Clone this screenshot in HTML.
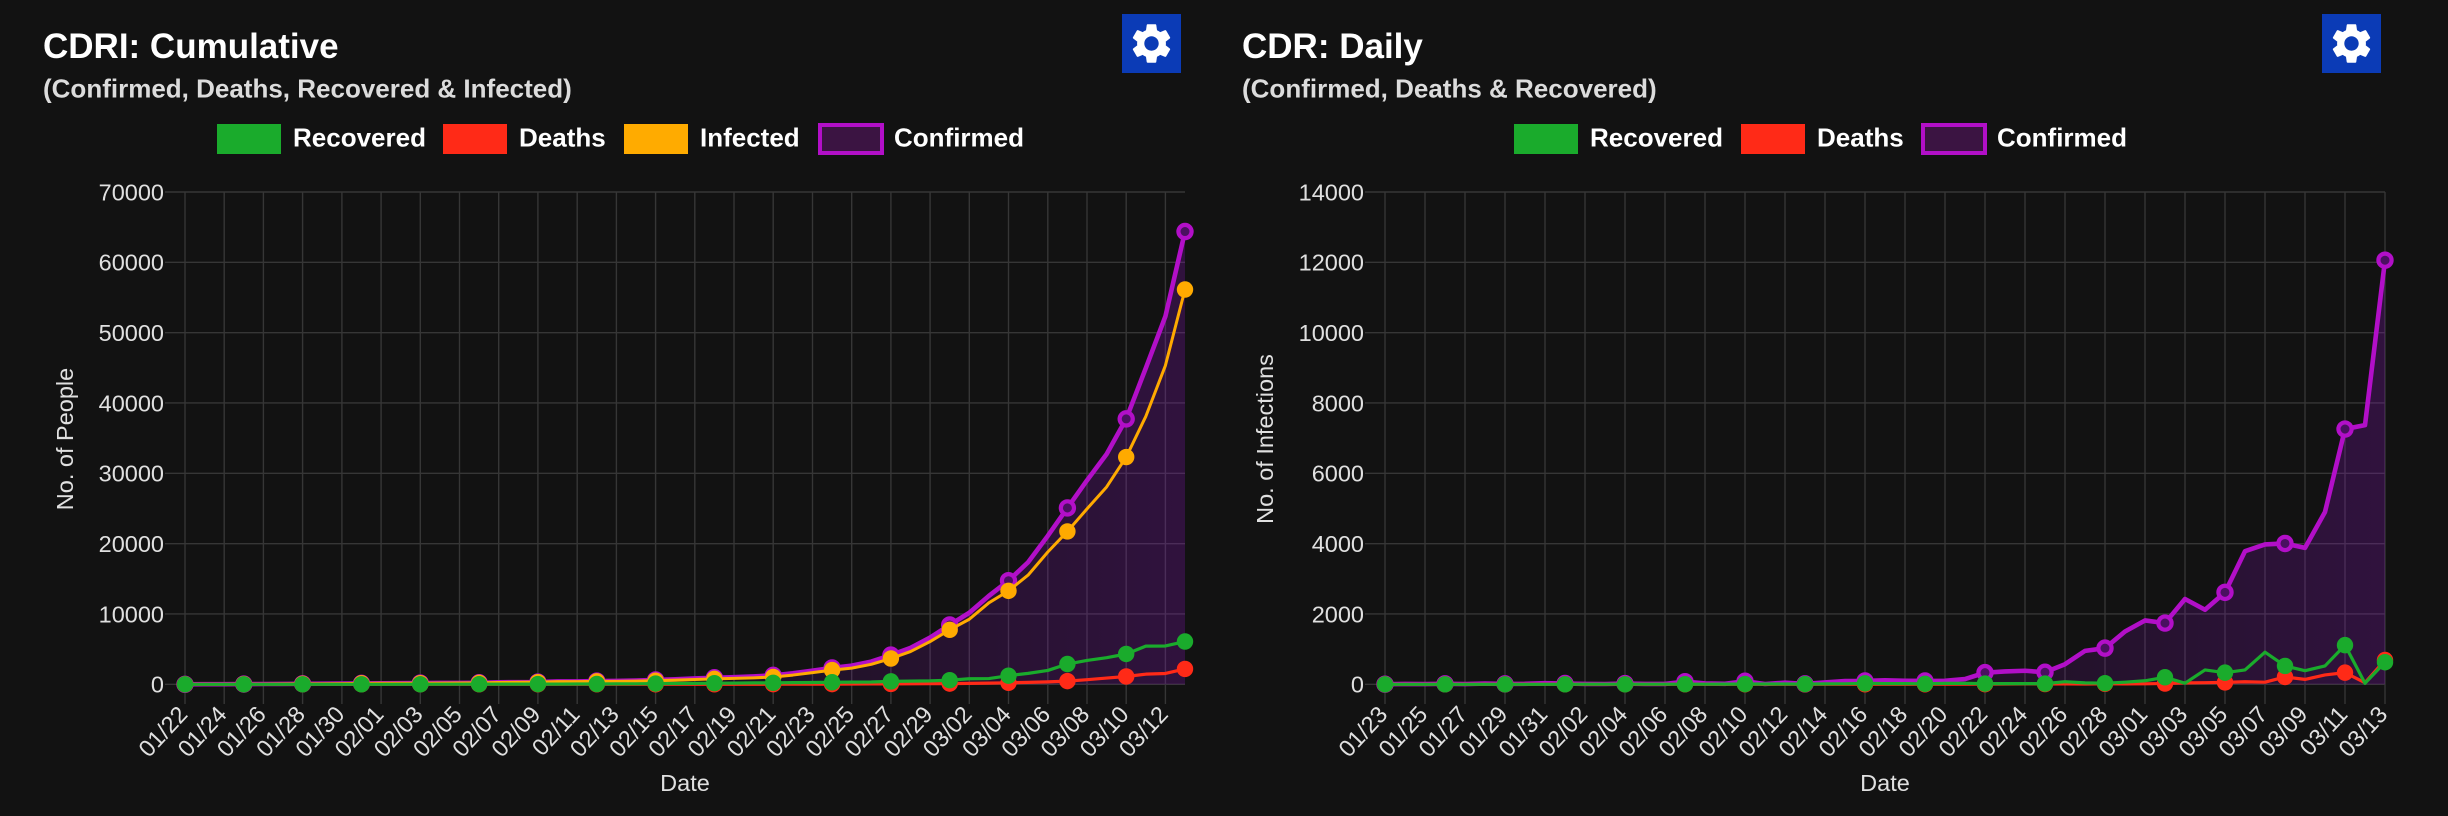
<!DOCTYPE html>
<html>
<head>
<meta charset="utf-8">
<style>
html,body{margin:0;padding:0;background:#121212;}
body{width:2448px;height:816px;overflow:hidden;position:relative;}
svg{position:absolute;left:0;top:0;}
</style>
</head>
<body>
<svg width="2448" height="816" viewBox="0 0 2448 816" xmlns="http://www.w3.org/2000/svg" font-family="'Liberation Sans', Arial, sans-serif">
<defs>
<linearGradient id="fillL" x1="0" y1="0" x2="1" y2="0">
<stop offset="0" stop-color="#8a10c0" stop-opacity="0.04"/>
<stop offset="0.55" stop-color="#8a10c0" stop-opacity="0.10"/>
<stop offset="1" stop-color="#8a10c0" stop-opacity="0.25"/>
</linearGradient>
<linearGradient id="fillR" x1="0" y1="0" x2="1" y2="0">
<stop offset="0" stop-color="#8a10c0" stop-opacity="0.04"/>
<stop offset="0.55" stop-color="#8a10c0" stop-opacity="0.10"/>
<stop offset="1" stop-color="#8a10c0" stop-opacity="0.25"/>
</linearGradient>
</defs>
<rect x="0" y="0" width="2448" height="816" fill="#121212"/>

<!-- ===== Headers ===== -->
<text x="43" y="58" font-size="35" font-weight="bold" fill="#ffffff">CDRI: Cumulative</text>
<text x="43" y="97.5" font-size="26" font-weight="bold" fill="#dcdcdc">(Confirmed, Deaths, Recovered &amp; Infected)</text>
<text x="1242" y="58" font-size="35" font-weight="bold" fill="#ffffff">CDR: Daily</text>
<text x="1242" y="97.5" font-size="26" font-weight="bold" fill="#dcdcdc">(Confirmed, Deaths &amp; Recovered)</text>

<!-- gear buttons -->
<rect x="1122" y="14" width="59" height="59" fill="#0b3bb6"/>
<path transform="translate(1127.5,19.5) scale(2)" fill="#ffffff" fill-rule="evenodd" d="M19.14,12.94c0.04-0.3,0.06-0.61,0.06-0.94c0-0.32-0.02-0.64-0.07-0.94l2.03-1.58c0.18-0.14,0.23-0.41,0.12-0.61l-1.92-3.32c-0.12-0.22-0.37-0.29-0.59-0.22l-2.39,0.96c-0.5-0.38-1.03-0.7-1.62-0.94L14.4,2.81c-0.04-0.24-0.24-0.41-0.48-0.41h-3.84c-0.24,0-0.43,0.17-0.47,0.41L9.25,5.35C8.66,5.59,8.12,5.92,7.63,6.29L5.24,5.33c-0.22-0.08-0.47,0-0.59,0.22L2.74,8.87C2.62,9.08,2.66,9.34,2.86,9.48l2.03,1.58C4.84,11.36,4.8,11.69,4.8,12s0.02,0.64,0.07,0.94l-2.03,1.58c-0.18,0.14-0.23,0.41-0.12,0.61l1.92,3.32c0.12,0.22,0.37,0.29,0.59,0.22l2.39-0.96c0.5,0.38,1.03,0.7,1.62,0.94l0.36,2.54c0.05,0.24,0.24,0.41,0.48,0.41h3.84c0.24,0,0.44-0.17,0.47-0.41l0.36-2.54c0.59-0.24,1.13-0.56,1.62-0.94l2.39,0.96c0.22,0.08,0.47,0,0.59-0.22l1.92-3.32c0.12-0.22,0.07-0.47-0.12-0.61L19.14,12.94z M12,15.6c-1.98,0-3.6-1.62-3.6-3.6s1.62-3.6,3.6-3.6s3.6,1.62,3.6,3.6S13.98,15.6,12,15.6z"/>
<rect x="2322" y="14" width="59" height="59" fill="#0b3bb6"/>
<path transform="translate(2327.5,19.5) scale(2)" fill="#ffffff" fill-rule="evenodd" d="M19.14,12.94c0.04-0.3,0.06-0.61,0.06-0.94c0-0.32-0.02-0.64-0.07-0.94l2.03-1.58c0.18-0.14,0.23-0.41,0.12-0.61l-1.92-3.32c-0.12-0.22-0.37-0.29-0.59-0.22l-2.39,0.96c-0.5-0.38-1.03-0.7-1.62-0.94L14.4,2.81c-0.04-0.24-0.24-0.41-0.48-0.41h-3.84c-0.24,0-0.43,0.17-0.47,0.41L9.25,5.35C8.66,5.59,8.12,5.920,7.63,6.29L5.24,5.33c-0.22-0.08-0.47,0-0.59,0.22L2.74,8.87C2.62,9.08,2.66,9.34,2.86,9.48l2.03,1.58C4.84,11.36,4.8,11.69,4.8,12s0.02,0.64,0.07,0.94l-2.03,1.58c-0.18,0.14-0.23,0.41-0.12,0.61l1.92,3.32c0.12,0.22,0.37,0.29,0.59,0.22l2.39-0.96c0.5,0.38,1.03,0.7,1.62,0.94l0.36,2.54c0.05,0.24,0.24,0.41,0.48,0.41h3.84c0.24,0,0.44-0.17,0.47-0.41l0.36-2.54c0.59-0.24,1.13-0.56,1.62-0.94l2.39,0.96c0.22,0.08,0.47,0,0.59-0.22l1.92-3.32c0.12-0.22,0.07-0.47-0.12-0.61L19.14,12.94z M12,15.6c-1.98,0-3.6-1.62-3.6-3.6s1.62-3.6,3.6-3.6s3.6,1.62,3.6,3.6S13.98,15.6,12,15.6z"/>

<!-- ===== Legends ===== -->
<g font-size="26" font-weight="bold" fill="#ffffff">
<rect x="217" y="124" width="64" height="30" fill="#1aab2c"/>
<text x="293" y="146.5">Recovered</text>
<rect x="443" y="124" width="64" height="30" fill="#ff2a17"/>
<text x="519" y="146.5">Deaths</text>
<rect x="624" y="124" width="64" height="30" fill="#ffab00"/>
<text x="700" y="146.5">Infected</text>
<rect x="820" y="125" width="62" height="28" fill="#3b1442" stroke="#b20fc8" stroke-width="4"/>
<text x="894" y="146.5">Confirmed</text>

<rect x="1514" y="124" width="64" height="30" fill="#1aab2c"/>
<text x="1590" y="146.5">Recovered</text>
<rect x="1741" y="124" width="64" height="30" fill="#ff2a17"/>
<text x="1817" y="146.5">Deaths</text>
<rect x="1923" y="125" width="62" height="28" fill="#3b1442" stroke="#b20fc8" stroke-width="4"/>
<text x="1997" y="146.5">Confirmed</text>
</g>

<!-- ===== Gridlines ===== -->
<g stroke="#363636" stroke-width="1.4" fill="none">
<path d="M165 684.3H1185M165 613.97H1185M165 543.64H1185M165 473.31H1185M165 402.98H1185M165 332.65H1185M165 262.32H1185M165 192H1185"/>
<path d="M185 192V704M224.2 192V704M263.4 192V704M302.6 192V704M341.9 192V704M381.1 192V704M420.3 192V704M459.5 192V704M498.7 192V704M537.9 192V704M577.2 192V704M616.4 192V704M655.6 192V704M694.8 192V704M734 192V704M773.2 192V704M812.5 192V704M851.7 192V704M890.9 192V704M930.1 192V704M969.3 192V704M1008.5 192V704M1047.8 192V704M1087 192V704M1126.2 192V704M1165.4 192V704"/>
<path d="M1365 684.3H2385M1365 613.97H2385M1365 543.64H2385M1365 473.31H2385M1365 402.98H2385M1365 332.65H2385M1365 262.32H2385M1365 192H2385"/>
<path d="M1385 192V704M1425 192V704M1465 192V704M1505 192V704M1545 192V704M1585 192V704M1625 192V704M1665 192V704M1705 192V704M1745 192V704M1785 192V704M1825 192V704M1865 192V704M1905 192V704M1945 192V704M1985 192V704M2025 192V704M2065 192V704M2105 192V704M2145 192V704M2185 192V704M2225 192V704M2265 192V704M2305 192V704M2345 192V704M2385 192V704"/>
</g>

<!-- ===== Axis tick labels ===== -->
<g font-size="23.5" fill="#e0e0e0" text-anchor="end">
<text x="164" y="692.7">0</text>
<text x="164" y="622.4">10000</text>
<text x="164" y="552">20000</text>
<text x="164" y="481.7">30000</text>
<text x="164" y="411.4">40000</text>
<text x="164" y="341.1">50000</text>
<text x="164" y="270.7">60000</text>
<text x="164" y="200.4">70000</text>
<text x="1364" y="692.7">0</text>
<text x="1364" y="622.4">2000</text>
<text x="1364" y="552">4000</text>
<text x="1364" y="481.7">6000</text>
<text x="1364" y="411.4">8000</text>
<text x="1364" y="341.1">10000</text>
<text x="1364" y="270.7">12000</text>
<text x="1364" y="200.4">14000</text>
</g>
<g font-size="23.5" fill="#e0e0e0" text-anchor="end" dominant-baseline="central">
<text transform="translate(183,710) rotate(-47)">01/22</text>
<text transform="translate(222.2,710) rotate(-47)">01/24</text>
<text transform="translate(261.4,710) rotate(-47)">01/26</text>
<text transform="translate(300.6,710) rotate(-47)">01/28</text>
<text transform="translate(339.9,710) rotate(-47)">01/30</text>
<text transform="translate(379.1,710) rotate(-47)">02/01</text>
<text transform="translate(418.3,710) rotate(-47)">02/03</text>
<text transform="translate(457.5,710) rotate(-47)">02/05</text>
<text transform="translate(496.7,710) rotate(-47)">02/07</text>
<text transform="translate(535.9,710) rotate(-47)">02/09</text>
<text transform="translate(575.2,710) rotate(-47)">02/11</text>
<text transform="translate(614.4,710) rotate(-47)">02/13</text>
<text transform="translate(653.6,710) rotate(-47)">02/15</text>
<text transform="translate(692.8,710) rotate(-47)">02/17</text>
<text transform="translate(732,710) rotate(-47)">02/19</text>
<text transform="translate(771.2,710) rotate(-47)">02/21</text>
<text transform="translate(810.5,710) rotate(-47)">02/23</text>
<text transform="translate(849.7,710) rotate(-47)">02/25</text>
<text transform="translate(888.9,710) rotate(-47)">02/27</text>
<text transform="translate(928.1,710) rotate(-47)">02/29</text>
<text transform="translate(967.3,710) rotate(-47)">03/02</text>
<text transform="translate(1006.5,710) rotate(-47)">03/04</text>
<text transform="translate(1045.8,710) rotate(-47)">03/06</text>
<text transform="translate(1085,710) rotate(-47)">03/08</text>
<text transform="translate(1124.2,710) rotate(-47)">03/10</text>
<text transform="translate(1163.4,710) rotate(-47)">03/12</text>

<text transform="translate(1383,710) rotate(-47)">01/23</text>
<text transform="translate(1423,710) rotate(-47)">01/25</text>
<text transform="translate(1463,710) rotate(-47)">01/27</text>
<text transform="translate(1503,710) rotate(-47)">01/29</text>
<text transform="translate(1543,710) rotate(-47)">01/31</text>
<text transform="translate(1583,710) rotate(-47)">02/02</text>
<text transform="translate(1623,710) rotate(-47)">02/04</text>
<text transform="translate(1663,710) rotate(-47)">02/06</text>
<text transform="translate(1703,710) rotate(-47)">02/08</text>
<text transform="translate(1743,710) rotate(-47)">02/10</text>
<text transform="translate(1783,710) rotate(-47)">02/12</text>
<text transform="translate(1823,710) rotate(-47)">02/14</text>
<text transform="translate(1863,710) rotate(-47)">02/16</text>
<text transform="translate(1903,710) rotate(-47)">02/18</text>
<text transform="translate(1943,710) rotate(-47)">02/20</text>
<text transform="translate(1983,710) rotate(-47)">02/22</text>
<text transform="translate(2023,710) rotate(-47)">02/24</text>
<text transform="translate(2063,710) rotate(-47)">02/26</text>
<text transform="translate(2103,710) rotate(-47)">02/28</text>
<text transform="translate(2143,710) rotate(-47)">03/01</text>
<text transform="translate(2183,710) rotate(-47)">03/03</text>
<text transform="translate(2223,710) rotate(-47)">03/05</text>
<text transform="translate(2263,710) rotate(-47)">03/07</text>
<text transform="translate(2303,710) rotate(-47)">03/09</text>
<text transform="translate(2343,710) rotate(-47)">03/11</text>
<text transform="translate(2383,710) rotate(-47)">03/13</text>
</g>

<!-- axis titles -->
<g font-size="23.5" fill="#e0e0e0" text-anchor="middle">
<text transform="translate(73,439) rotate(-90)">No. of People</text>
<text transform="translate(1273,439) rotate(-90)">No. of Infections</text>
<text x="685" y="791">Date</text>
<text x="1885" y="791">Date</text>
</g>

<!-- ===== LEFT CHART DATA ===== -->
<g transform="matrix(1 0 0 1.00371 0 -2.2376)">
<polygon fill="url(#fillL)" points="185,684 204.6,683.9 224.2,683.9 243.8,683.8 263.4,683.7 283,683.6 302.6,683.5 322.3,683.4 341.9,683.3 361.5,683.1 381.1,683 400.7,682.9 420.3,682.8 439.9,682.7 459.5,682.6 479.1,682.5 498.7,682 518.3,681.9 537.9,681.8 557.6,681.1 577.2,681.1 596.8,680.8 616.4,680.7 636,680.3 655.6,679.7 675.2,679 694.8,678.2 714.4,677.5 734,676.9 753.6,676.2 773.2,675.1 792.8,673 812.5,670.4 832.1,667.7 851.7,665.4 871.3,661.4 890.9,654.9 910.5,647.7 930.1,637.4 949.7,624.9 969.3,612.7 988.9,595.9 1008.5,580.8 1028.1,562.4 1047.8,536.1 1067.4,508.3 1087,480.8 1106.6,454.7 1126.2,419.6 1145.8,369 1165.4,317.4 1185,232.9 1185,684"/>
<polyline fill="none" stroke="#b20fc8" stroke-width="4.6" stroke-linejoin="round" stroke-linecap="round" points="185,684 204.6,683.9 224.2,683.9 243.8,683.8 263.4,683.7 283,683.6 302.6,683.5 322.3,683.4 341.9,683.3 361.5,683.1 381.1,683 400.7,682.9 420.3,682.8 439.9,682.7 459.5,682.6 479.1,682.5 498.7,682 518.3,681.9 537.9,681.8 557.6,681.1 577.2,681.1 596.8,680.8 616.4,680.7 636,680.3 655.6,679.7 675.2,679 694.8,678.2 714.4,677.5 734,676.9 753.6,676.2 773.2,675.1 792.8,673 812.5,670.4 832.1,667.7 851.7,665.4 871.3,661.4 890.9,654.9 910.5,647.7 930.1,637.4 949.7,624.9 969.3,612.7 988.9,595.9 1008.5,580.8 1028.1,562.4 1047.8,536.1 1067.4,508.3 1087,480.8 1106.6,454.7 1126.2,419.6 1145.8,369 1165.4,317.4 1185,232.9"/>
<g fill="#4a1060" stroke="#b20fc8" stroke-width="4.2">
<circle cx="185" cy="684" r="6.6"/><circle cx="243.8" cy="683.8" r="6.6"/><circle cx="302.6" cy="683.5" r="6.6"/><circle cx="361.5" cy="683.1" r="6.6"/><circle cx="420.3" cy="682.8" r="6.6"/><circle cx="479.1" cy="682.5" r="6.6"/><circle cx="537.9" cy="681.8" r="6.6"/><circle cx="596.8" cy="680.8" r="6.6"/><circle cx="655.6" cy="679.7" r="6.6"/><circle cx="714.4" cy="677.5" r="6.6"/><circle cx="773.2" cy="675.1" r="6.6"/><circle cx="832.1" cy="667.7" r="6.6"/><circle cx="890.9" cy="654.9" r="6.6"/><circle cx="949.7" cy="624.9" r="6.6"/><circle cx="1008.5" cy="580.8" r="6.6"/><circle cx="1067.4" cy="508.3" r="6.6"/><circle cx="1126.2" cy="419.6" r="6.6"/><circle cx="1185" cy="232.9" r="6.6"/>
</g>

<polyline fill="none" stroke="#ffaa00" stroke-width="3" stroke-linejoin="round" stroke-linecap="round" points="185,684 204.6,683.9 224.2,683.9 243.8,683.8 263.4,683.7 283,683.6 302.6,683.5 322.3,683.4 341.9,683.3 361.5,683.1 381.1,683 400.7,682.9 420.3,682.9 439.9,682.8 459.5,682.7 479.1,682.6 498.7,682.2 518.3,682 537.9,681.9 557.6,681.4 577.2,681.4 596.8,681.1 616.4,681.1 636,680.8 655.6,680.4 675.2,679.9 694.8,679.2 714.4,678.6 734,678.1 753.6,677.6 773.2,676.7 792.8,674.8 812.5,672.4 832.1,669.9 851.7,667.9 871.3,664.1 890.9,658.3 910.5,651.4 930.1,641.4 949.7,629.7 969.3,619.2 988.9,602.8 1008.5,590.9 1028.1,575.2 1047.8,552.2 1067.4,531.7 1087,509.2 1106.6,487.4 1126.2,457.6 1145.8,417.1 1165.4,366.4 1185,290.7"/>
<g fill="#ffaa00">
<circle cx="185" cy="684" r="8.2"/><circle cx="243.8" cy="683.8" r="8.2"/><circle cx="302.6" cy="683.5" r="8.2"/><circle cx="361.5" cy="683.1" r="8.2"/><circle cx="420.3" cy="682.9" r="8.2"/><circle cx="479.1" cy="682.6" r="8.2"/><circle cx="537.9" cy="681.9" r="8.2"/><circle cx="596.8" cy="681.1" r="8.2"/><circle cx="655.6" cy="680.4" r="8.2"/><circle cx="714.4" cy="678.6" r="8.2"/><circle cx="773.2" cy="676.7" r="8.2"/><circle cx="832.1" cy="669.9" r="8.2"/><circle cx="890.9" cy="658.3" r="8.2"/><circle cx="949.7" cy="629.7" r="8.2"/><circle cx="1008.5" cy="590.9" r="8.2"/><circle cx="1067.4" cy="531.7" r="8.2"/><circle cx="1126.2" cy="457.6" r="8.2"/><circle cx="1185" cy="290.7" r="8.2"/>
</g>

<polyline fill="none" stroke="#ff2a17" stroke-width="3.2" stroke-linejoin="round" stroke-linecap="round" points="185,684 753.6,684 773.2,683.9 792.8,683.9 812.5,683.8 832.1,683.8 851.7,683.7 871.3,683.6 890.9,683.6 910.5,683.5 930.1,683.4 949.7,683.3 969.3,683.1 988.9,682.8 1008.5,682.5 1028.1,682.1 1047.8,681.6 1067.4,680.8 1087,679.4 1106.6,677.8 1126.2,676.2 1145.8,673.9 1165.4,673.2 1185,668.7"/>
<g fill="#ff2a17">
<circle cx="185" cy="684" r="8.2"/><circle cx="243.8" cy="684" r="8.2"/><circle cx="302.6" cy="684" r="8.2"/><circle cx="361.5" cy="684" r="8.2"/><circle cx="420.3" cy="684" r="8.2"/><circle cx="479.1" cy="684" r="8.2"/><circle cx="537.9" cy="684" r="8.2"/><circle cx="596.8" cy="684" r="8.2"/><circle cx="655.6" cy="684" r="8.2"/><circle cx="714.4" cy="684" r="8.2"/><circle cx="773.2" cy="683.9" r="8.2"/><circle cx="832.1" cy="683.8" r="8.2"/><circle cx="890.9" cy="683.6" r="8.2"/><circle cx="949.7" cy="683.3" r="8.2"/><circle cx="1008.5" cy="682.5" r="8.2"/><circle cx="1067.4" cy="680.8" r="8.2"/><circle cx="1126.2" cy="676.2" r="8.2"/><circle cx="1185" cy="668.7" r="8.2"/>
</g>

<polyline fill="none" stroke="#1aab2c" stroke-width="3.2" stroke-linejoin="round" stroke-linecap="round" points="185,684 361.5,684 381.1,684 459.5,683.9 557.6,683.8 577.2,683.7 596.8,683.7 616.4,683.6 636,683.5 655.6,683.3 675.2,683.2 694.8,683.1 714.4,682.9 734,682.8 753.6,682.6 773.2,682.5 792.8,682.3 812.5,682.2 832.1,682 851.7,681.8 871.3,681.7 890.9,681.1 910.5,680.8 930.1,680.6 949.7,679.9 969.3,678.5 988.9,678.3 1008.5,675.4 1028.1,673.1 1047.8,670.2 1067.4,663.8 1087,660.2 1106.6,657.5 1126.2,653.8 1145.8,646 1165.4,645.8 1185,641.4"/>
<g fill="#1aab2c">
<circle cx="185" cy="684" r="8.2"/><circle cx="243.8" cy="684" r="8.2"/><circle cx="302.6" cy="684" r="8.2"/><circle cx="361.5" cy="684" r="8.2"/><circle cx="420.3" cy="684" r="8.2"/><circle cx="479.1" cy="683.9" r="8.2"/><circle cx="537.9" cy="683.8" r="8.2"/><circle cx="596.8" cy="683.7" r="8.2"/><circle cx="655.6" cy="683.3" r="8.2"/><circle cx="714.4" cy="682.9" r="8.2"/><circle cx="773.2" cy="682.5" r="8.2"/><circle cx="832.1" cy="682" r="8.2"/><circle cx="890.9" cy="681.1" r="8.2"/><circle cx="949.7" cy="679.9" r="8.2"/><circle cx="1008.5" cy="675.4" r="8.2"/><circle cx="1067.4" cy="663.8" r="8.2"/><circle cx="1126.2" cy="653.8" r="8.2"/><circle cx="1185" cy="641.4" r="8.2"/>
</g>
</g>

<!-- ===== RIGHT CHART DATA ===== -->
<g transform="matrix(1 0 0 1.00371 0 -2.2376)">
<polygon fill="url(#fillR)" points="1385,683.9 1405,683.6 1425,683.8 1445,683.5 1465,683.8 1485,683.3 1505,683.6 1525,683.5 1545,682.9 1565,683.2 1585,683.6 1605,683.7 1625,683.3 1645,683.6 1665,683.6 1685,681.4 1705,683.1 1725,683.5 1745,681 1765,683.7 1785,682.4 1805,683.6 1825,682.1 1845,680.8 1865,680.7 1885,680 1905,680.5 1925,680.7 1945,680.5 1965,678.8 1985,672.4 2005,671.2 2025,670.5 2045,672 2065,664 2085,650.7 2105,648 2125,631.4 2145,620.4 2165,623 2185,599 2205,609.7 2225,592.4 2245,551.4 2265,544.7 2285,543.7 2305,548.1 2325,512.3 2345,429.7 2365,425.8 2385,261.5 2385,684 1385,684"/>
<polyline fill="none" stroke="#b20fc8" stroke-width="4.6" stroke-linejoin="round" stroke-linecap="round" points="1385,683.9 1405,683.6 1425,683.8 1445,683.5 1465,683.8 1485,683.3 1505,683.6 1525,683.5 1545,682.9 1565,683.2 1585,683.6 1605,683.7 1625,683.3 1645,683.6 1665,683.6 1685,681.4 1705,683.1 1725,683.5 1745,681 1765,683.7 1785,682.4 1805,683.6 1825,682.1 1845,680.8 1865,680.7 1885,680 1905,680.5 1925,680.7 1945,680.5 1965,678.8 1985,672.4 2005,671.2 2025,670.5 2045,672 2065,664 2085,650.7 2105,648 2125,631.4 2145,620.4 2165,623 2185,599 2205,609.7 2225,592.4 2245,551.4 2265,544.7 2285,543.7 2305,548.1 2325,512.3 2345,429.7 2365,425.8 2385,261.5"/>
<g fill="#4a1060" stroke="#b20fc8" stroke-width="4.2">
<circle cx="1385" cy="683.9" r="6.6"/><circle cx="1445" cy="683.5" r="6.6"/><circle cx="1505" cy="683.6" r="6.6"/><circle cx="1565" cy="683.2" r="6.6"/><circle cx="1625" cy="683.3" r="6.6"/><circle cx="1685" cy="681.4" r="6.6"/><circle cx="1745" cy="681" r="6.6"/><circle cx="1805" cy="683.6" r="6.6"/><circle cx="1865" cy="680.7" r="6.6"/><circle cx="1925" cy="680.7" r="6.6"/><circle cx="1985" cy="672.4" r="6.6"/><circle cx="2045" cy="672" r="6.6"/><circle cx="2105" cy="648" r="6.6"/><circle cx="2165" cy="623" r="6.6"/><circle cx="2225" cy="592.4" r="6.6"/><circle cx="2285" cy="543.7" r="6.6"/><circle cx="2345" cy="429.7" r="6.6"/><circle cx="2385" cy="261.5" r="6.6"/>
</g>

<polyline fill="none" stroke="#ff2a17" stroke-width="3.2" stroke-linejoin="round" stroke-linecap="round" points="1385,684 1985,683.9 2005,683.7 2025,683.6 2045,683.7 2065,683.6 2085,683.7 2105,683.5 2125,683.6 2145,683.5 2165,683.2 2185,682.6 2205,682.4 2225,682.1 2245,681.5 2265,681.9 2285,676.7 2305,679.1 2325,674.7 2345,672.4 2365,682.4 2385,659.8"/>
<g fill="#ff2a17">
<circle cx="1385" cy="684" r="8.2"/><circle cx="1445" cy="684" r="8.2"/><circle cx="1505" cy="684" r="8.2"/><circle cx="1565" cy="684" r="8.2"/><circle cx="1625" cy="684" r="8.2"/><circle cx="1685" cy="684" r="8.2"/><circle cx="1745" cy="684" r="8.2"/><circle cx="1805" cy="684" r="8.2"/><circle cx="1865" cy="684" r="8.2"/><circle cx="1925" cy="684" r="8.2"/><circle cx="1985" cy="683.9" r="8.2"/><circle cx="2045" cy="683.7" r="8.2"/><circle cx="2105" cy="683.5" r="8.2"/><circle cx="2165" cy="683.2" r="8.2"/><circle cx="2225" cy="682.1" r="8.2"/><circle cx="2285" cy="676.7" r="8.2"/><circle cx="2345" cy="672.4" r="8.2"/><circle cx="2385" cy="659.8" r="8.2"/>
</g>

<polyline fill="none" stroke="#1aab2c" stroke-width="3.2" stroke-linejoin="round" stroke-linecap="round" points="1385,684 1565,684 1585,683.9 1705,683.9 1725,683.8 1785,683.7 1805,683.8 1825,683.6 1845,683.5 1865,683.1 1885,683.3 1905,683.3 1925,683.5 1945,683.1 1965,683.1 1985,683.3 2045,683.3 2065,681.4 2085,682.6 2105,682.9 2125,681.9 2145,680.5 2165,677 2185,682.9 2205,669.7 2225,672.4 2245,669.7 2265,652 2285,665.7 2305,670.4 2325,665.7 2345,645 2365,683 2385,662"/>
<g fill="#1aab2c">
<circle cx="1385" cy="684" r="8.2"/><circle cx="1445" cy="684" r="8.2"/><circle cx="1505" cy="684" r="8.2"/><circle cx="1565" cy="684" r="8.2"/><circle cx="1625" cy="684" r="8.2"/><circle cx="1685" cy="683.9" r="8.2"/><circle cx="1745" cy="683.8" r="8.2"/><circle cx="1805" cy="683.8" r="8.2"/><circle cx="1865" cy="683.1" r="8.2"/><circle cx="1925" cy="683.5" r="8.2"/><circle cx="1985" cy="683.3" r="8.2"/><circle cx="2045" cy="683.3" r="8.2"/><circle cx="2105" cy="682.9" r="8.2"/><circle cx="2165" cy="677" r="8.2"/><circle cx="2225" cy="672.4" r="8.2"/><circle cx="2285" cy="665.7" r="8.2"/><circle cx="2345" cy="645" r="8.2"/><circle cx="2385" cy="662" r="8.2"/>
</g>
</g>
</svg>
</body>
</html>
